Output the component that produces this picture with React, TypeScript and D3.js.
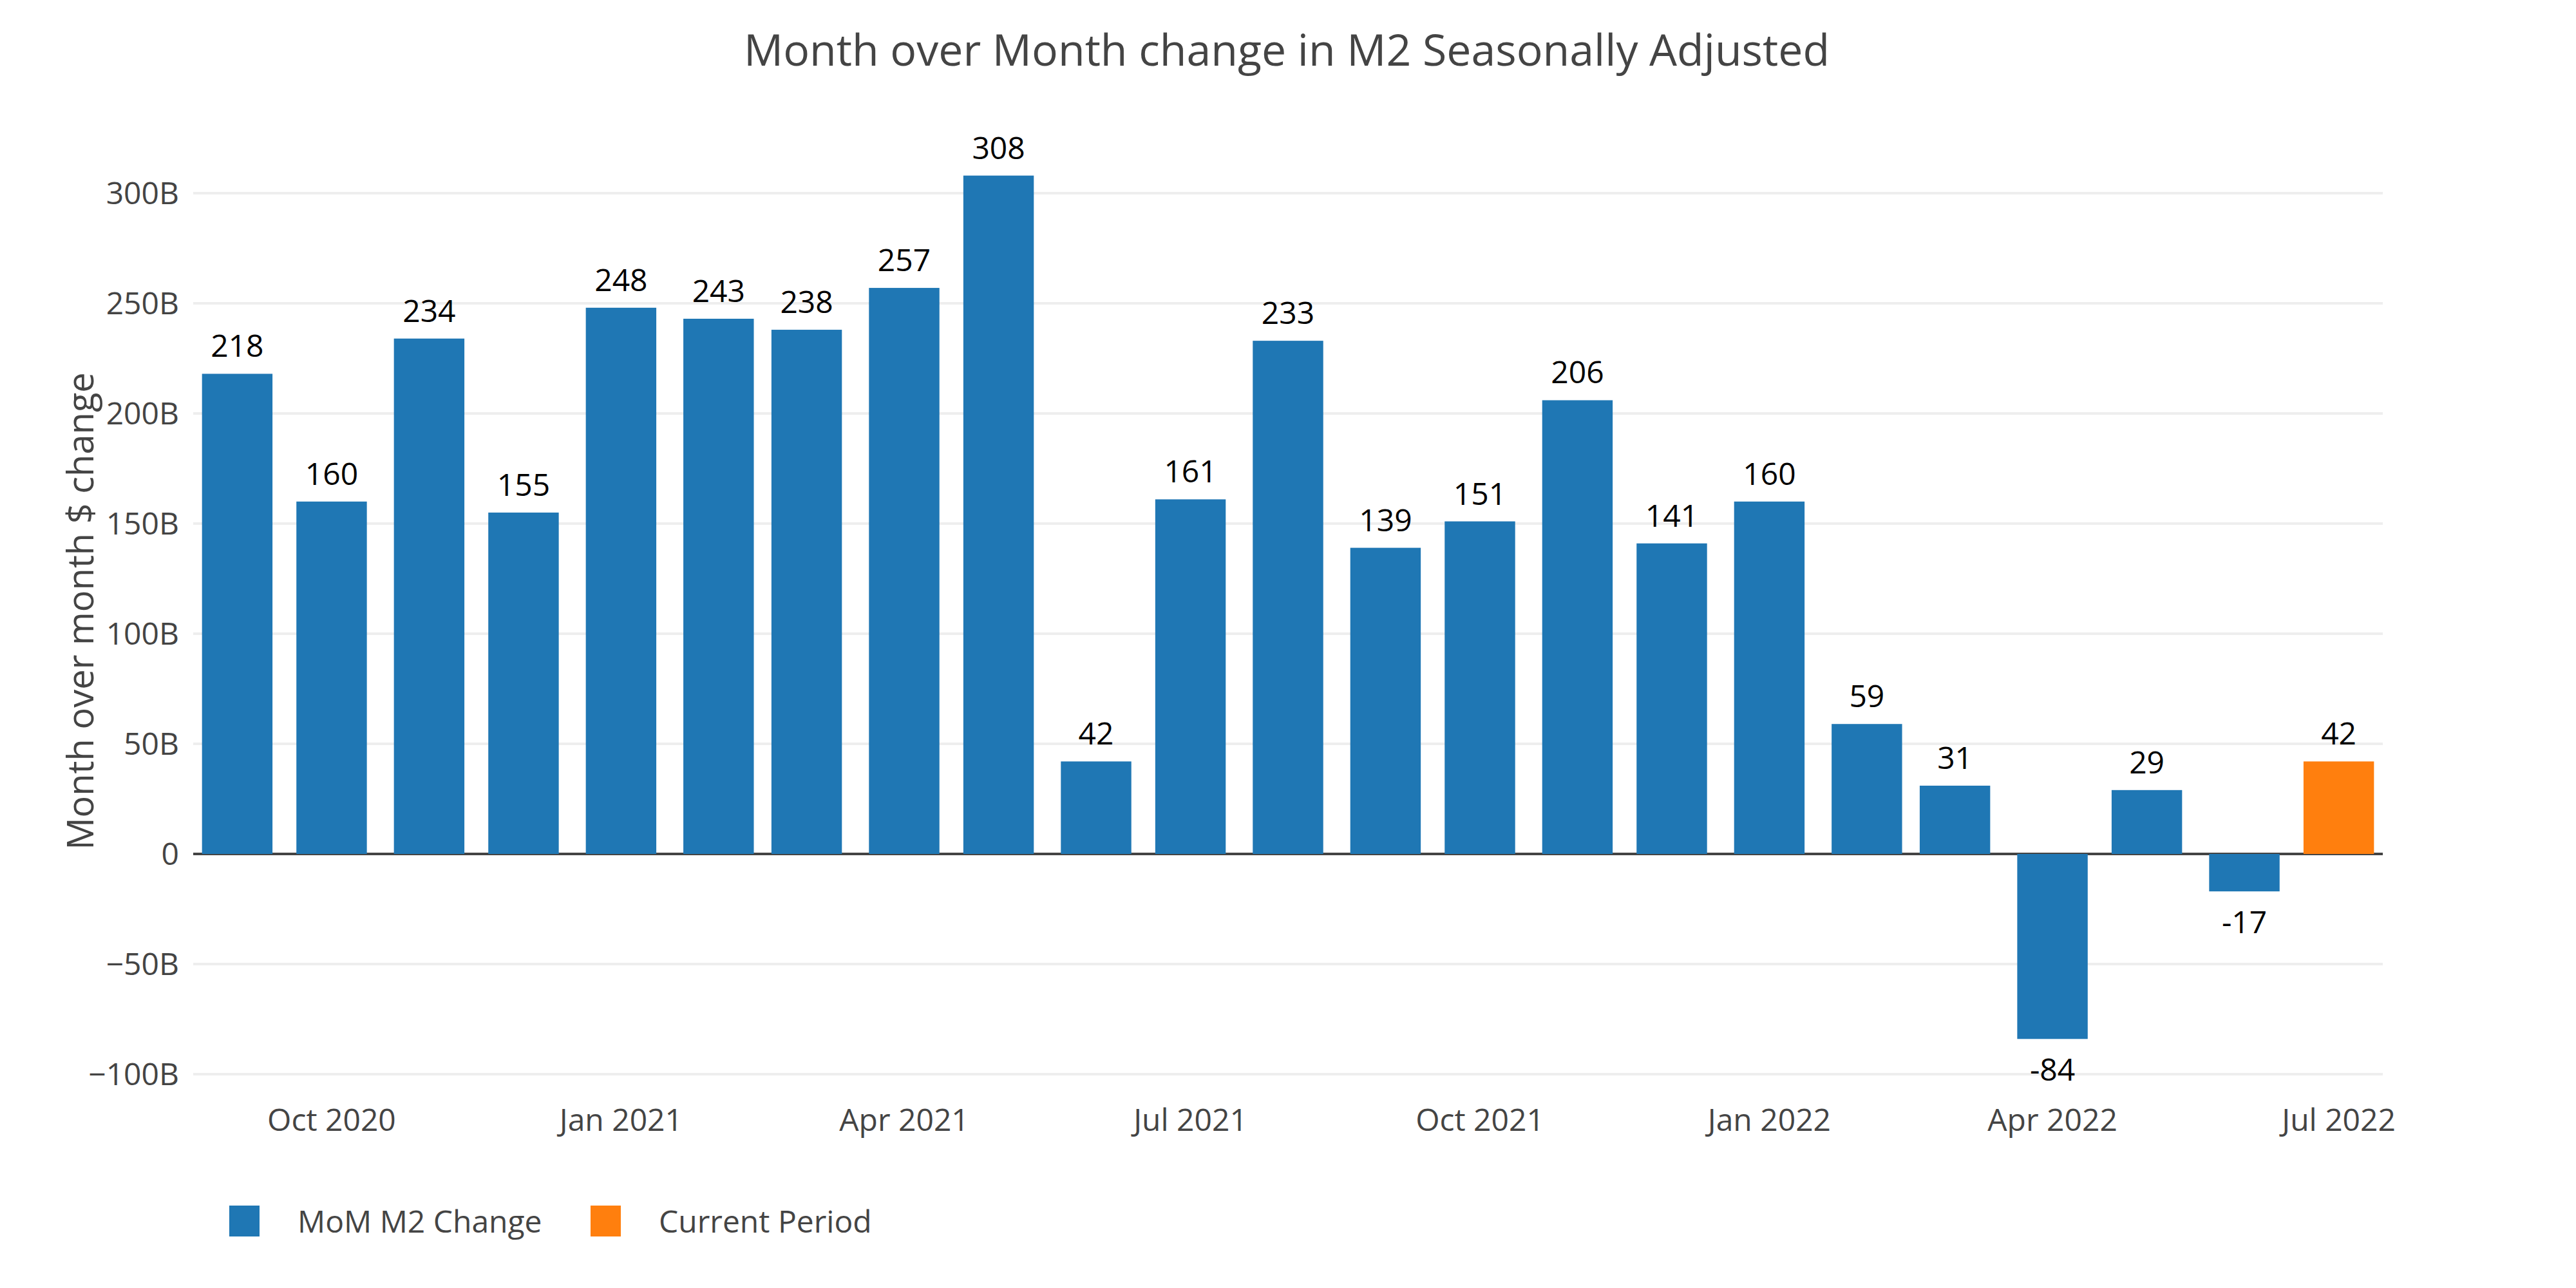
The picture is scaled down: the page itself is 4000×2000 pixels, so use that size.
import * as d3 from 'd3'

// 월별 M2 변화량 (십억 달러)
const momMonths = [
  '2020-09', '2020-10', '2020-11', '2020-12',
  '2021-01', '2021-02', '2021-03', '2021-04', '2021-05', '2021-06',
  '2021-07', '2021-08', '2021-09', '2021-10', '2021-11', '2021-12',
  '2022-01', '2022-02', '2022-03', '2022-04', '2022-05', '2022-06',
]
const momValues = [
  218, 160, 234, 155, 248, 243, 238, 257, 308, 42, 161, 233,
  139, 151, 206, 141, 160, 59, 31, -84, 29, -17,
]
const currentMonths = ['2022-07']
const currentValues = [42]

const yTickValues = [-100, -50, 0, 50, 100, 150, 200, 250, 300]

const W = 4000
const H = 2000
const FONT = '"Open Sans", verdana, arial, sans-serif'
const FS = 48
const DAY = 24 * 3600 * 1000

const parseMonth = (s: string) => {
  const [y, m] = s.split('-').map(Number)
  return new Date(Date.UTC(y, m - 1, 1))
}

export default function App() {
  const first = parseMonth(momMonths[0])
  const last = parseMonth(currentMonths[currentMonths.length - 1])

  const x = d3
    .scaleUtc()
    .domain([new Date(+first - 14 * DAY), new Date(+last + 14 * DAY)])
    .range([300, 3700])
  const y = d3.scaleLinear().domain([-100, 300]).range([1668, 300])

  const halfBar = 11.2 * DAY
  const xTicks = d3.utcMonth
    .every(3)!
    .range(parseMonth('2020-10'), new Date(+last + DAY))
  const fmtX = d3.utcFormat('%b %Y')
  const fmtY = (v: number) =>
    v === 0 ? '0' : (v < 0 ? '\u2212' : '') + Math.abs(v) + 'B'

  const series = [
    { name: 'MoM M2 Change', color: '#1f77b4', months: momMonths, values: momValues },
    { name: 'Current Period', color: '#ff7f0e', months: currentMonths, values: currentValues },
  ]

  const [r0, r1] = x.range()

  return (
    <svg
      width={W}
      height={H}
      style={{ position: 'absolute', left: 0, top: 0, background: '#fff' }}
      fontFamily={FONT}
    >
      <rect width={W} height={H} fill="#fff" />
      <text x={1998} y={102} textAnchor="middle" fontSize={68} fill="#444">
        Month over Month change in M2 Seasonally Adjusted
      </text>

      {/* 그리드 */}
      {yTickValues.map((t) => (
        <g key={t}>
          {t !== 0 && (
            <line x1={r0} x2={r1} y1={y(t)} y2={y(t)} stroke="#eee" strokeWidth={4} />
          )}
          <text
            x={278}
            y={y(t)}
            dy="0.35em"
            textAnchor="end"
            fontSize={FS}
            fill="#444"
          >
            {fmtY(t)}
          </text>
        </g>
      ))}
      <line x1={r0} x2={r1} y1={y(0)} y2={y(0)} stroke="#444" strokeWidth={4} />

      {/* 막대 */}
      {series.map((s) =>
        s.months.map((m, i) => {
          const d = parseMonth(m)
          const v = s.values[i]
          const xl = x(new Date(+d - halfBar))
          const xr = x(new Date(+d + halfBar))
          const top = y(Math.max(v, 0))
          const bot = y(Math.min(v, 0))
          return (
            <g key={s.name + m}>
              <rect x={xl} width={xr - xl} y={top} height={bot - top} fill={s.color} />
              <text
                x={(xl + xr) / 2}
                y={v >= 0 ? top - 26 : bot + 65}
                textAnchor="middle"
                fontSize={FS}
                fill="#000"
              >
                {v}
              </text>
            </g>
          )
        }),
      )}

      {/* x축 */}
      {xTicks.map((t) => (
        <text
          key={+t}
          x={x(t)}
          y={1756}
          textAnchor="middle"
          fontSize={FS}
          fill="#444"
        >
          {fmtX(t)}
        </text>
      ))}

      <text
        transform={`translate(145, 949) rotate(-90)`}
        textAnchor="middle"
        fontSize={56}
        fill="#444"
      >
        Month over month $ change
      </text>

      {/* 범례 */}
      {series.map((s, i) => {
        const lx = 356 + i * 561
        return (
          <g key={s.name}>
            <rect x={lx} y={1872} width={47} height={48} fill={s.color} />
            <text x={lx + 106} y={1914} fontSize={FS} fill="#444">
              {s.name}
            </text>
          </g>
        )
      })}
    </svg>
  )
}
